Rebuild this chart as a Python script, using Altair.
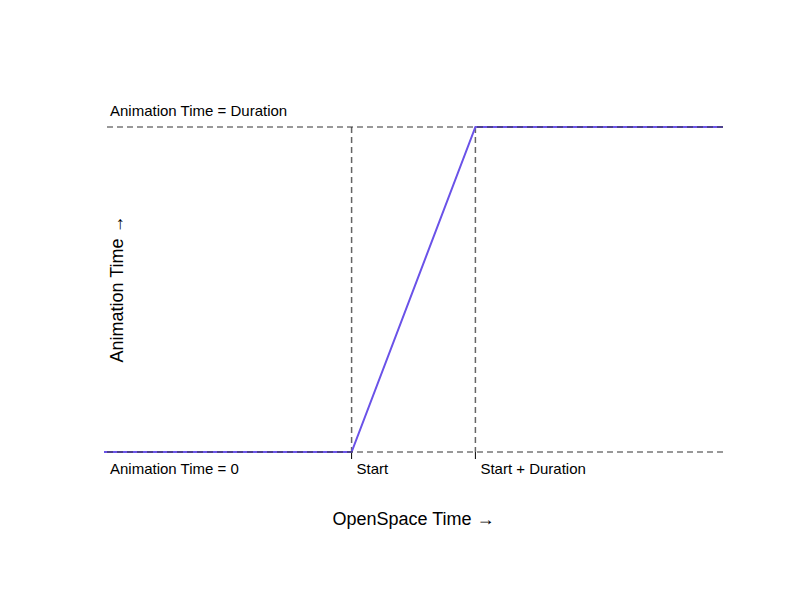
import altair as alt
import pandas as pd

line_x = [0, 2, 3, 5]
line_y = [0, 0, 1, 1]
h_levels = [0, 1]
v_levels = [2, 3]
bottom_labels = ["Start", "Start + Duration"]
level_labels = ["Animation Time = 0", "Animation Time = Duration"]

X = alt.Scale(domain=[0, 5], nice=False, zero=False)
Y = alt.Scale(domain=[0, 1], nice=False, zero=False)
F = "Liberation Sans"

line = alt.Chart(pd.DataFrame({"x": line_x, "y": line_y})).mark_line(
    color="#6a52e8", strokeWidth=2).encode(
    x=alt.X("x:Q", scale=X, axis=None), y=alt.Y("y:Q", scale=Y, axis=None))

hd = pd.DataFrame({"y": h_levels, "label": level_labels})
hrule = alt.Chart(hd).mark_rule(color="#333", strokeDash=[6, 4], strokeWidth=1).encode(
    y=alt.Y("y:Q", scale=Y, axis=None))
vd = pd.DataFrame({"x": v_levels, "label": bottom_labels})
vrule = alt.Chart(vd).mark_rule(color="#666", strokeDash=[6, 4], strokeWidth=1.5).encode(
    x=alt.X("x:Q", scale=X, axis=None))
vtick = alt.Chart(vd).mark_rule(color="black").encode(
    x=alt.X("x:Q", scale=X, axis=None), y=alt.value(325), y2=alt.value(332))

top_lbl = alt.Chart(hd[hd.y == 1]).mark_text(
    align="left", baseline="bottom", dx=6, dy=-8, font=F, fontSize=15).encode(
    x=alt.value(0), y=alt.Y("y:Q", scale=Y), text="label")
bot_lbl = alt.Chart(hd[hd.y == 0]).mark_text(
    align="left", baseline="top", dx=6, dy=10, font=F, fontSize=15).encode(
    x=alt.value(0), y=alt.Y("y:Q", scale=Y), text="label")
v_lbl = alt.Chart(vd).mark_text(
    align="left", baseline="top", dx=5, dy=10, font=F, fontSize=15).encode(
    x=alt.X("x:Q", scale=X), y=alt.value(325), text="label")

titles = alt.Chart(pd.DataFrame({"t": ["OpenSpace Time \u2192"]})).mark_text(
    font=F, fontSize=18, baseline="middle").encode(
    x=alt.value(309.5), y=alt.value(393), text="t")
ytitle = alt.Chart(pd.DataFrame({"t": ["Animation Time \u2192"]})).mark_text(
    font=F, fontSize=18, baseline="middle", angle=270).encode(
    x=alt.value(14), y=alt.value(162), text="t")

chart = alt.layer(vrule, vtick, line, hrule, top_lbl, bot_lbl, v_lbl, titles, ytitle).properties(
    width=619, height=325,
    autosize=alt.AutoSizeParams(type="none"),
    padding={"left": 96, "top": 119, "right": 69, "bottom": 140},
    background="white",
).configure_view(stroke=None)

chart.save("out.html", embed_options={"renderer": "svg", "actions": False})
